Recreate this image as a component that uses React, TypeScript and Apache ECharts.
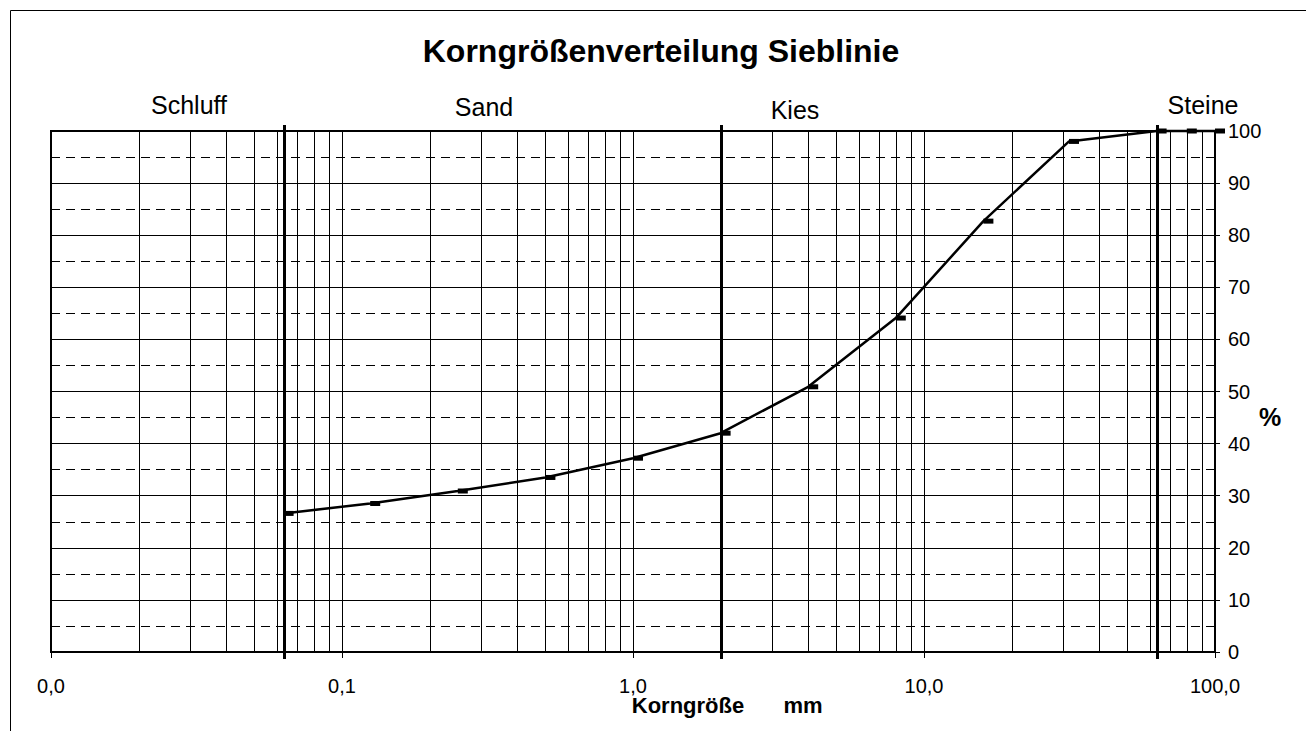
import React, { useEffect, useRef } from "react";
import * as echarts from "echarts";

// Sieve analysis data: grain size (mm) and passing (%)
const GRAIN_SIZES = [0.063, 0.125, 0.25, 0.5, 1, 2, 4, 8, 16, 31.5, 63, 80, 100];
const PASSING = [26.6, 28.5, 30.9, 33.5, 37.2, 42.0, 50.9, 64.1, 82.7, 98.0, 100, 100, 100];

// Soil class boundaries (mm)
const BOUNDARIES = [0.063, 2, 63];
const REGION_LABELS = ["Schluff", "Sand", "Kies", "Steine"];

// Axis
const X_DECADES = [0.01, 0.1, 1, 10];
const X_MULTIPLIERS = [2, 3, 4, 5, 6, 7, 8, 9];
const Y_TICKS = [0, 10, 20, 30, 40, 50, 60, 70, 80, 90, 100];

const TITLE = "Korngrößenverteilung Sieblinie";
const X_NAME_A = "Korngröße";
const X_NAME_B = "mm";
const Y_NAME = "%";

const FONT = '"Liberation Sans", Arial, sans-serif';

export default function App() {
  const ref = useRef<HTMLDivElement>(null);

  useEffect(() => {
    if (!ref.current) return;
    const chart = echarts.init(ref.current, null, { renderer: "svg" });

    const minorX: number[] = [];
    X_DECADES.forEach((d) => X_MULTIPLIERS.forEach((m) => minorX.push(+(d * m).toPrecision(3))));

    const yMin = Y_TICKS[0];
    const yMax = Y_TICKS[Y_TICKS.length - 1];

    const vLine = (width: number, ext0: number, ext1: number) =>
      (params: any, api: any) => {
        const x = api.value(0);
        const p0 = api.coord([x, yMin]);
        const p1 = api.coord([x, yMax]);
        const px = width % 2 === 1 ? Math.round(p0[0]) + 0.5 : Math.round(p0[0]);
        return {
          type: "line",
          shape: { x1: px, y1: p0[1] + ext0, x2: px, y2: p1[1] - ext1 },
          style: { stroke: "#000", lineWidth: width },
        };
      };

    const option: any = {
      animation: false,
      backgroundColor: "#fff",
      grid: {
        left: 51,
        top: 131,
        right: 91,
        bottom: 79,
        show: true,
        borderColor: "#000",
        borderWidth: 2,
        backgroundColor: "transparent",
      },
      xAxis: {
        type: "log",
        logBase: 10,
        min: 0.01,
        max: 100,
        axisLine: { show: true, lineStyle: { color: "#000", width: 2 } },
        axisTick: { show: true, length: 6, lineStyle: { color: "#000", width: 1 } },
        axisLabel: {
          margin: 24,
          fontSize: 20,
          fontFamily: FONT,
          color: "#000",
          formatter: (v: number) => v.toFixed(1).replace(".", ","),
        },
        splitLine: { show: true, lineStyle: { color: "#000", width: 1 } },
      },
      yAxis: {
        type: "value",
        position: "right",
        min: yMin,
        max: yMax,
        interval: 10,
        axisLine: { show: true, lineStyle: { color: "#000", width: 2 } },
        axisTick: { show: true, length: 5, lineStyle: { color: "#000", width: 1 } },
        axisLabel: { margin: 13, fontSize: 20, fontFamily: FONT, color: "#000" },
        splitLine: { show: true, lineStyle: { color: "#000", width: 1 } },
        minorTick: { show: false, splitNumber: 2 },
        minorSplitLine: { show: true, lineStyle: { color: "#000", width: 1, type: [9, 6] } },
      },
      series: [
        {
          type: "custom",
          z: 1,
          silent: true,
          renderItem: vLine(1, 0, 0),
          data: minorX.map((v) => [v, yMin]),
          encode: { x: 0, y: 1 },
        },
        {
          type: "custom",
          z: 3,
          silent: true,
          renderItem: vLine(3, 7, 6),
          data: BOUNDARIES.map((v) => [v, yMin]),
          encode: { x: 0, y: 1 },
        },
        {
          type: "line",
          z: 5,
          data: GRAIN_SIZES.map((s, i) => [s, PASSING[i]]),
          lineStyle: { color: "#000", width: 2.5 },
          itemStyle: { color: "#000" },
          symbol: "rect",
          symbolSize: [10, 5],
          symbolOffset: [5, 0],
          showSymbol: true,
          clip: false,
        },
      ],
      graphic: [
        {
          type: "rect",
          silent: true,
          shape: { x: 10.5, y: 10.5, width: 1400, height: 900 },
          style: { fill: "none", stroke: "#000", lineWidth: 1 },
          z: -10,
        },
        {
          type: "text",
          x: 661,
          y: 51,
          style: { text: TITLE, font: `bold 32px ${FONT}`, fill: "#000", align: "center", verticalAlign: "middle" },
        },
        ...REGION_LABELS.map((t, i) => ({
          type: "text",
          x: [189, 484, 795, 1203][i],
          y: [105, 107, 110, 105][i],
          style: { text: t, font: `25px ${FONT}`, fill: "#000", align: "center", verticalAlign: "middle" },
        })),
        {
          type: "text",
          x: 688,
          y: 705,
          style: { text: X_NAME_A, font: `bold 22px ${FONT}`, fill: "#000", align: "center", verticalAlign: "middle" },
        },
        {
          type: "text",
          x: 803,
          y: 705,
          style: { text: X_NAME_B, font: `bold 22px ${FONT}`, fill: "#000", align: "center", verticalAlign: "middle" },
        },
        {
          type: "text",
          x: 1270,
          y: 417,
          style: { text: Y_NAME, font: `bold 25px ${FONT}`, fill: "#000", align: "center", verticalAlign: "middle" },
        },
      ],
    };

    chart.setOption(option);
    return () => chart.dispose();
  }, []);

  return (
    <div
      ref={ref}
      style={{ position: "absolute", left: 0, top: 0, width: 1306, height: 731 }}
    />
  );
}
